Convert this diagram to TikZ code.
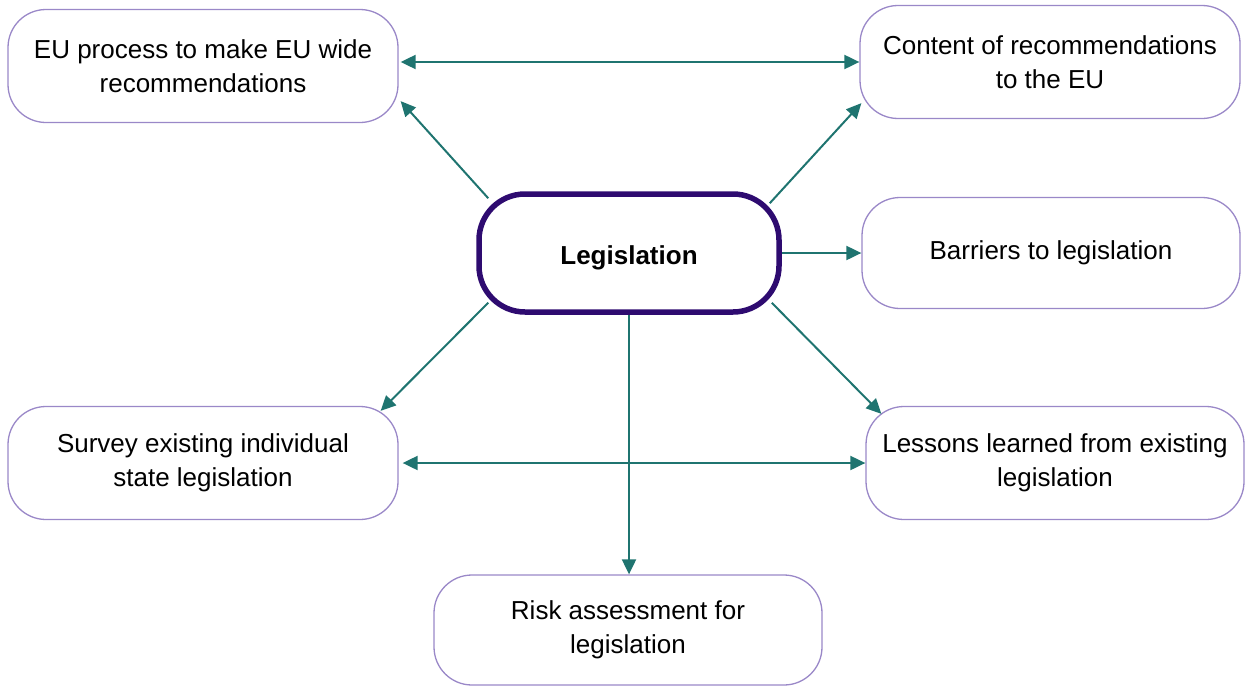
\documentclass[tikz,border=0pt]{standalone}
\usepackage{fontspec}
\setmainfont{Liberation Sans}
\usetikzlibrary{arrows.meta,calc}
\definecolor{teal}{HTML}{1F7470}
\definecolor{lav}{HTML}{9A88C8}
\definecolor{deep}{HTML}{2E0B70}
\tikzset{
  x=1pt,y=-1pt,
  box/.style={draw=lav,line width=1.3pt,rounded corners=38pt,fill=white,align=center,
    font=\fontsize{26}{34}\selectfont,inner sep=0pt},
  conn/.style={draw=teal,line width=2pt,-{Triangle[length=15pt,width=14pt]}},
  dconn/.style={draw=teal,line width=2pt,{Triangle[length=15pt,width=14pt]}-{Triangle[length=15pt,width=14pt]}},
}
\begin{document}
\begin{tikzpicture}
\useasboundingbox (0,0) rectangle (1246,688);
\node[box,minimum width=390pt,minimum height=113pt] (eu) at (203,66) {EU process to make EU wide\\recommendations};
\node[box,minimum width=380pt,minimum height=113pt] (co) at (1050,62) {Content of recommendations\\to the EU};
\node[box,minimum width=378pt,minimum height=111pt] (ba) at (1051,253) {Barriers to legislation};
\node[box,minimum width=390pt,minimum height=113pt] (su) at (203,463) {Survey existing individual\\state legislation};
\node[box,minimum width=378pt,minimum height=113pt] (le) at (1055,463) {Lessons learned from existing\\legislation};
\node[box,minimum width=388pt,minimum height=110pt] (ri) at (628,630) {Risk assessment for\\legislation};
\node[draw=deep,line width=5.5pt,rounded corners=46pt,minimum width=300pt,minimum height=118pt,
  font=\fontsize{26}{30}\selectfont\bfseries,inner sep=0pt] (lg) at (629,253) {\raisebox{-5pt}[\height][\depth]{Legislation}};
% connectors
\draw[dconn] (eu.east) ++(2,-4) coordinate (a1) -- (co.west |- a1);
\draw[dconn] (su.east) ++(4,0) coordinate (a2) -- (le.west |- a2);
\coordinate (p1) at ($(lg.north west)+(12,7)$);
\coordinate (q1) at ($(eu.south east)+(2,-22)$);
\draw[conn] (p1) -- (q1);
\coordinate (p2) at ($(lg.north east)+(-12,12)$);
\coordinate (q2) at ($(co.south west)+(2,-16)$);
\draw[conn] (p2) -- (q2);
\draw[conn] (lg.east) -- (ba.west);
\coordinate (p3) at ($(lg.south west)+(12,-12)$);
\coordinate (q3) at ($(su.north east)+(-18,5)$);
\draw[conn] (p3) -- (q3);
\coordinate (p4) at ($(lg.south east)+(-10,-12)$);
\coordinate (q4) at ($(le.north west)+(16,8)$);
\draw[conn] (p4) -- (q4);
\draw[conn] (lg.south) -- (lg.south |- ri.north);
\end{tikzpicture}
\end{document}
